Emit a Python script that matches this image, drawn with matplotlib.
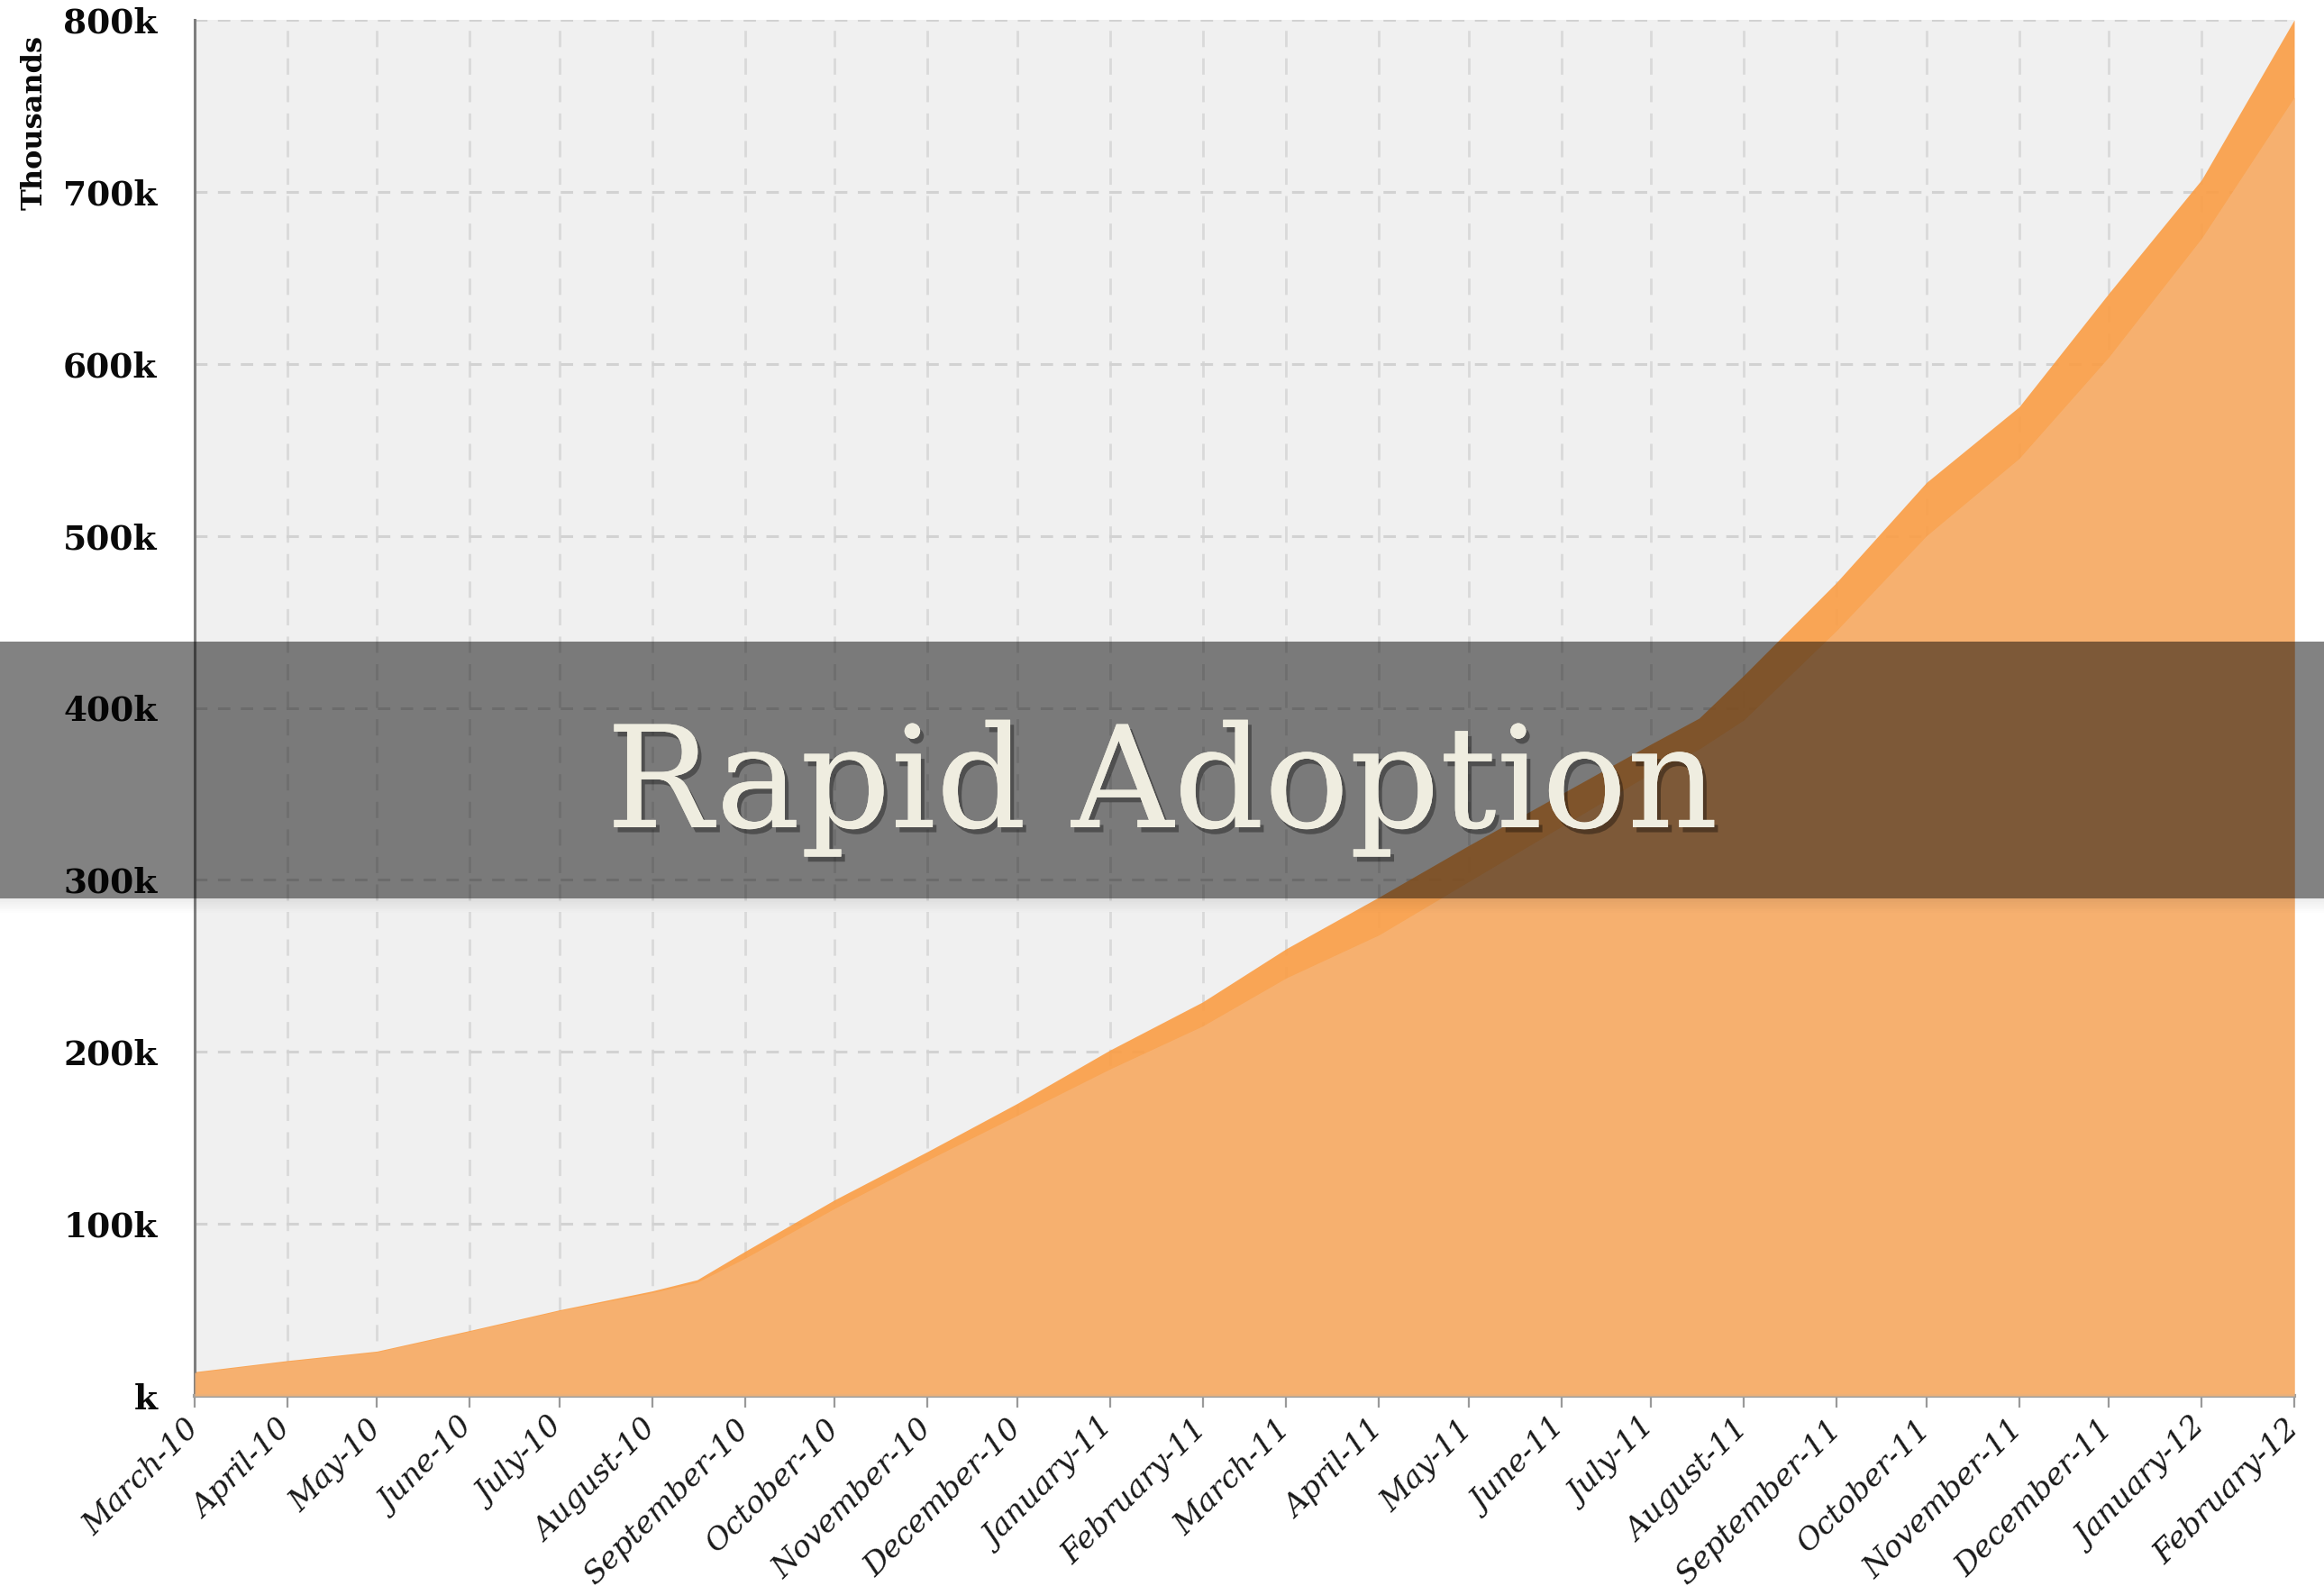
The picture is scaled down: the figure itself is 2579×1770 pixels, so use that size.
import matplotlib
matplotlib.use("Agg")
import matplotlib.pyplot as plt
import matplotlib.dates as mdates
import matplotlib.patheffects as pe
from matplotlib.patches import Rectangle
import pandas as pd

# ---------------- data (thousands) ----------------
point_dates = ['2010-03-01', '2010-04-01', '2010-05-01', '2010-06-01', '2010-07-01',
               '2010-08-01', '2010-08-16', '2010-09-01', '2010-10-01', '2010-11-01',
               '2010-12-01', '2011-01-01', '2011-02-01', '2011-03-01', '2011-04-01',
               '2011-05-01', '2011-06-01', '2011-07-01', '2011-07-17', '2011-08-01',
               '2011-09-01', '2011-10-01', '2011-11-01', '2011-12-01', '2012-01-01',
               '2012-02-01']
total_k = [14, 20.5, 26, 38, 50, 61, 67.5, 84, 114, 142, 170, 201, 229, 260, 290,
           320, 350, 379, 394, 419, 473, 531, 575, 641, 707, 800]
active_k = [13.5, 20, 25.5, 37.5, 49.5, 60, 66, 80, 109, 137, 163, 190, 215, 243, 268,
            299, 331, 362, 376, 393, 445, 500, 545, 604, 673, 755]

tick_months = ['2010-03-01', '2010-04-01', '2010-05-01', '2010-06-01', '2010-07-01',
               '2010-08-01', '2010-09-01', '2010-10-01', '2010-11-01', '2010-12-01',
               '2011-01-01', '2011-02-01', '2011-03-01', '2011-04-01', '2011-05-01',
               '2011-06-01', '2011-07-01', '2011-08-01', '2011-09-01', '2011-10-01',
               '2011-11-01', '2011-12-01', '2012-01-01', '2012-02-01']
tick_labels = ['March-10', 'April-10', 'May-10', 'June-10', 'July-10', 'August-10',
               'September-10', 'October-10', 'November-10', 'December-10', 'January-11',
               'February-11', 'March-11', 'April-11', 'May-11', 'June-11', 'July-11',
               'August-11', 'September-11', 'October-11', 'November-11', 'December-11',
               'January-12', 'February-12']
y_ticks = [0, 100, 200, 300, 400, 500, 600, 700, 800]
y_tick_labels = ['k', '100k', '200k', '300k', '400k', '500k', '600k', '700k', '800k']
y_axis_title = 'Thousands'
banner_title = 'Rapid Adoption'

# ---------------- figure ----------------
W, H, DPI = 2579, 1770, 100
fig = plt.figure(figsize=(W / DPI, H / DPI), dpi=DPI, facecolor='white')
ax = fig.add_axes([216 / W, 1 - 1549 / H, (2546 - 216) / W, (1549 - 22) / H])
ax.set_facecolor('#F0F0F0')

x = pd.to_datetime(point_dates)
ticks = pd.to_datetime(tick_months)

ax.fill_between(x, 0, total_k, color='#FB9D44', alpha=0.9, lw=0, zorder=2)
ax.fill_between(x, 0, active_k, color='#F6B273', alpha=0.9, lw=0, zorder=3)

ax.set_xlim(ticks[0], ticks[-1])
ax.set_ylim(0, 800)

ax.set_xticks(ticks)
ax.set_xticklabels(tick_labels, rotation=45, ha='right', va='center',
                   rotation_mode='anchor', fontsize=24.5, fontstyle='italic',
                   family='DejaVu Serif', color='#1A1A1A')
ax.set_yticks(y_ticks)
ax.set_yticklabels(y_tick_labels, fontsize=27, fontweight='heavy',
                   family='DejaVu Serif', color='#0A0A0A')

ax.tick_params(axis='x', length=9, width=1.6, color='#9A9A9A', pad=14)
ax.tick_params(axis='y', length=0, pad=30)

ax.xaxis.grid(True, color='#D9D9D9', lw=2.0, linestyle=(0, (6.5, 4.5)), zorder=1)
ax.yaxis.grid(True, color='#D2D2D2', lw=2.2, linestyle=(0, (4.5, 3.8)), zorder=1)
ax.set_axisbelow(True)

for s in ['top', 'right']:
    ax.spines[s].set_visible(False)
ax.spines['left'].set_color('#7E7E7E')
ax.spines['left'].set_linewidth(2.2)
ax.spines['bottom'].set_color('#A0A0A0')
ax.spines['bottom'].set_linewidth(3)

fig.text(38 / W, 1 - 136 / H, y_axis_title, rotation=90, ha='center', va='center',
         fontsize=23, fontweight='heavy', family='DejaVu Serif', color='#0A0A0A')

# ---------------- banner ----------------
b_top, b_bot = 712, 997
fig.patches.append(Rectangle((0, 1 - b_bot / H), 1, (b_bot - b_top) / H,
                             transform=fig.transFigure, facecolor='black',
                             alpha=0.49, lw=0, zorder=10))
for i in range(8):
    fig.patches.append(Rectangle((0, 1 - (b_bot + 2 * (i + 1)) / H), 1, 2 / H,
                                 transform=fig.transFigure, facecolor='black',
                                 alpha=0.07 * (1 - i / 8), lw=0, zorder=10))

t = fig.text(1290 / W, 1 - 918 / H, banner_title, ha='center', va='baseline',
             fontsize=113, family='DejaVu Serif', color='#EFEDE0', zorder=11)
t.set_path_effects([pe.withSimplePatchShadow(offset=(3, -4), shadow_rgbFace='black',
                                             alpha=0.35), pe.Normal()])

fig.savefig('out.png', dpi=DPI, facecolor='white')
